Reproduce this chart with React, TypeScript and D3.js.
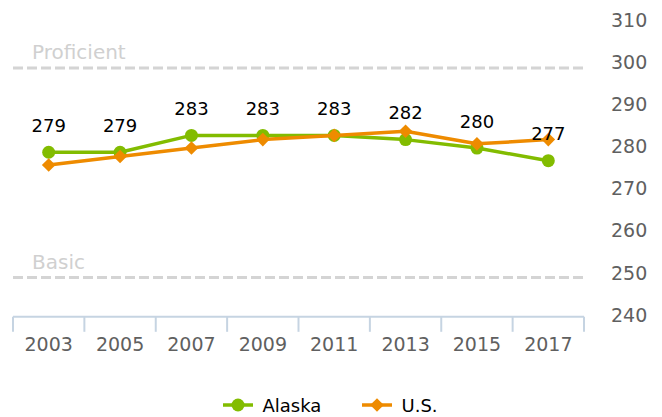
import React from "react";
import * as d3 from "d3";

const years = ["2003", "2005", "2007", "2009", "2011", "2013", "2015", "2017"];
const alaska = [279, 279, 283, 283, 283, 282, 280, 277];
const us = [276, 278, 280, 282, 283, 284, 281, 282];
const yTicks = [240, 250, 260, 270, 280, 290, 300, 310];
const bands = [
  { label: "Proficient", value: 299 },
  { label: "Basic", value: 249.3 },
];
const seriesNames = ["Alaska", "U.S."];

const W = 662;
const H = 417;
const GREEN = "#82bc00";
const ORANGE = "#ee8b00";
const FONT = "'DejaVu Sans', Verdana, sans-serif";

export default function App() {
  const xBand = d3.scaleBand<string>().domain(years).range([13, 584]).paddingInner(0).paddingOuter(0);
  const x = (d: string) => (xBand(d) as number) + xBand.bandwidth() / 2;
  const y = d3.scaleLinear().domain([240, 310]).range([316.8, 21.5]);

  const line = d3
    .line<number>()
    .x((_, i) => x(years[i]))
    .y((d) => y(d));

  const diamond = (cx: number, cy: number, r: number) =>
    `M${cx},${cy - r}L${cx + r},${cy}L${cx},${cy + r}L${cx - r},${cy}Z`;

  const axisY = y(240);
  const boundaries = years.map((d) => xBand(d) as number).concat([584]);

  return (
    <svg
      width={W}
      height={H}
      style={{ position: "absolute", left: 0, top: 0, background: "#fff" }}
      fontFamily={FONT}
    >
      {/* y tick labels */}
      {yTicks.map((t) => (
        <text key={t} x={611} y={y(t) + 5} fontSize={19} fill="#606060">
          {t}
        </text>
      ))}

      {/* reference bands */}
      {bands.map((b) => (
        <g key={b.label}>
          <line
            x1={13}
            x2={586}
            y1={y(b.value)}
            y2={y(b.value)}
            stroke="#d4d4d4"
            strokeWidth={3}
            strokeDasharray="10,4"
          />
          <text x={32} y={y(b.value) - 9} fontSize={20} fill="#d0d0d0">
            {b.label}
          </text>
        </g>
      ))}

      {/* x axis */}
      <line x1={13} x2={584} y1={axisY} y2={axisY} stroke="#c6d4e2" strokeWidth={2} />
      {boundaries.map((bx, i) => (
        <line key={i} x1={bx} x2={bx} y1={axisY} y2={axisY + 15} stroke="#c6d4e2" strokeWidth={2} />
      ))}
      {years.map((yr) => (
        <text key={yr} x={x(yr)} y={351} fontSize={19} fill="#606060" textAnchor="middle">
          {yr}
        </text>
      ))}

      {/* Alaska series */}
      <path d={line(alaska) || ""} fill="none" stroke={GREEN} strokeWidth={3.5} strokeLinejoin="round" />
      {alaska.map((v, i) => (
        <circle key={i} cx={x(years[i])} cy={y(v)} r={6.5} fill={GREEN} />
      ))}

      {/* U.S. series */}
      <path d={line(us) || ""} fill="none" stroke={ORANGE} strokeWidth={3.5} strokeLinejoin="round" />
      {us.map((v, i) => (
        <path key={i} d={diamond(x(years[i]), y(v), 6.8)} fill={ORANGE} />
      ))}

      {/* data labels */}
      {alaska.map((v, i) => (
        <text key={i} x={x(years[i])} y={y(v) - 20.5} fontSize={18} fill="#000" textAnchor="middle">
          {v}
        </text>
      ))}

      {/* legend */}
      <g>
        <line x1={223} x2={253} y1={405} y2={405} stroke={GREEN} strokeWidth={3.5} />
        <circle cx={238} cy={405} r={6.5} fill={GREEN} />
        <text x={262.5} y={412} fontSize={18} fill="#000">
          {seriesNames[0]}
        </text>
        <line x1={362} x2={392} y1={405} y2={405} stroke={ORANGE} strokeWidth={3.5} />
        <path d={diamond(377, 405, 6.8)} fill={ORANGE} />
        <text x={401.5} y={412} fontSize={18} fill="#000">
          {seriesNames[1]}
        </text>
      </g>
    </svg>
  );
}
